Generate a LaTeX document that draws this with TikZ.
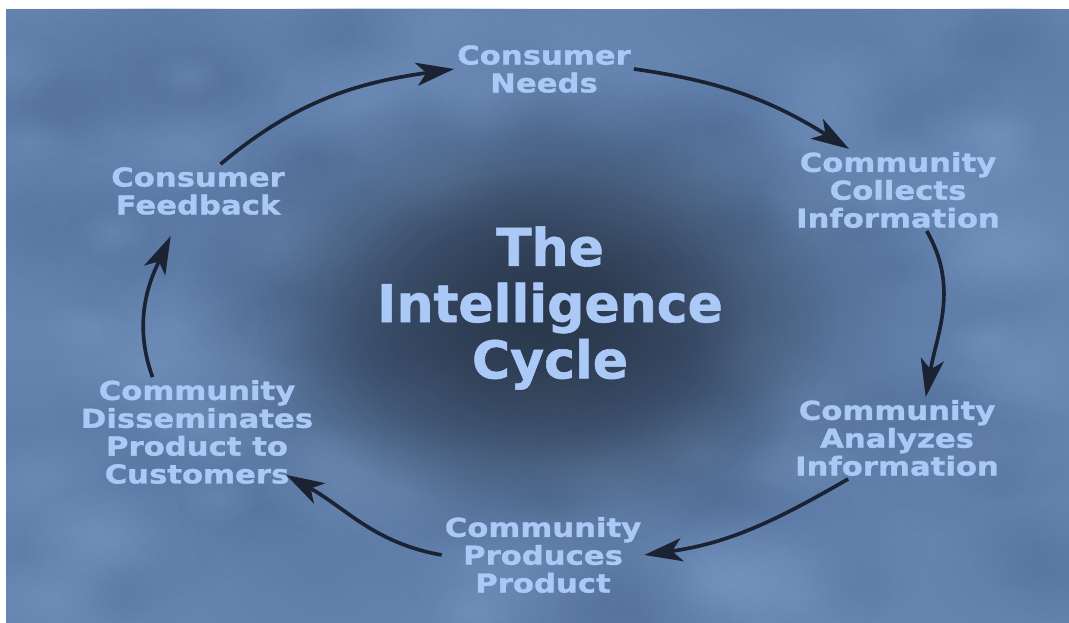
\documentclass[tikz,border=0pt]{standalone}
\usepackage{fontspec}
\setmainfont{DejaVu Sans}
\newfontfamily\stagefont[FakeStretch=1.18,FakeBold=1.2]{DejaVu Sans Bold}
\newfontfamily\titlefont[FakeBold=1.2]{DejaVu Sans Bold}
\usepackage{xcolor}
\usetikzlibrary{arrows.meta,fadings}
\definecolor{CycleBlue}{HTML}{6585B0}
\definecolor{CycleCore}{HTML}{29364A}
\definecolor{CycleInk}{HTML}{1B2232}
\definecolor{CycleText}{HTML}{AAC9F6}
\definecolor{CycleSpotDark}{HTML}{45608A}
\definecolor{CycleSpotLight}{HTML}{86A6D0}
\tikzfading[name=softspot,inner color=transparent!0,outer color=transparent!100]

\begin{document}
\begin{tikzpicture}[
  x=0.025cm,y=0.025cm,
  stage/.style={align=center,inner sep=2pt,text=CycleText,
                font=\fontsize{18.5}{19.8}\stagefont},
  title/.style={align=center,inner sep=2pt,text=CycleText,
                font=\fontsize{37}{40}\titlefont},
  arrow/.style={-{Stealth[length=9.5mm,width=5.8mm,inset=2.5mm]},
                line width=2.6pt,color=CycleInk}
]
  \useasboundingbox (0,0) rectangle (1069,623);
  % mottled backdrop with the dark core
  \begin{scope}
    \clip (6,0) rectangle (1069,614);
    \fill[CycleBlue] (6,0) rectangle (1069,614);
    \pgfmathsetseed{17}
    \foreach \k in {1,...,90}{
      \pgfmathsetmacro\sx{1069*rnd}
      \pgfmathsetmacro\sy{623*rnd}
      \pgfmathsetmacro\sr{30+60*rnd}
      \fill[CycleSpotDark,opacity=.2,path fading=softspot]
        (\sx,\sy) ellipse ({1.5*\sr} and \sr);
    }
    \foreach \k in {1,...,60}{
      \pgfmathsetmacro\sx{1069*rnd}
      \pgfmathsetmacro\sy{623*rnd}
      \pgfmathsetmacro\sr{25+45*rnd}
      \fill[CycleSpotLight,opacity=.25,path fading=softspot]
        (\sx,\sy) ellipse ({1.5*\sr} and \sr);
    }
    \fill[CycleCore,opacity=.8,path fading=softspot] (548,305) ellipse (370 and 245);
    \fill[CycleCore,opacity=.7,path fading=softspot] (548,305) ellipse (290 and 195);
    \fill[CycleCore,opacity=.5,path fading=softspot] (540,305) ellipse (210 and 145);
  \end{scope}

  \node[title] (cycle) at (550,315) {The\\Intelligence\\Cycle};

  \node[stage] (needs)    at (544,554) {Consumer\\Needs};
  \node[stage] (collects) at (898,433) {Community\\Collects\\Information};
  \node[stage] (analyzes) at (897,185) {Community\\Analyzes\\Information};
  \node[stage] (produces) at (543,68)  {Community\\Produces\\Product};
  \node[stage] (dissem)   at (197,191) {Community\\Disseminates\\Product to\\Customers};
  \node[stage] (feedback) at (198,432) {Consumer\\Feedback};

  \draw[arrow] (feedback.50) to[out=40,in=188] (needs.west);
  \draw[arrow] (needs.east) to[out=-8,in=148] (collects.140);
  \draw[arrow] (collects.-55) to[out=-60,in=80] (analyzes.55);
  \draw[arrow] (analyzes.220) to[out=210,in=8] (produces.east);
  \draw[arrow] (produces.west) to[out=170,in=-29]
    ([xshift=-0.75cm,yshift=0.3cm]dissem.south east);
  \draw[arrow,shorten >=5mm] (dissem.129) to[out=110,in=245] (feedback.235);
\end{tikzpicture}
\end{document}
